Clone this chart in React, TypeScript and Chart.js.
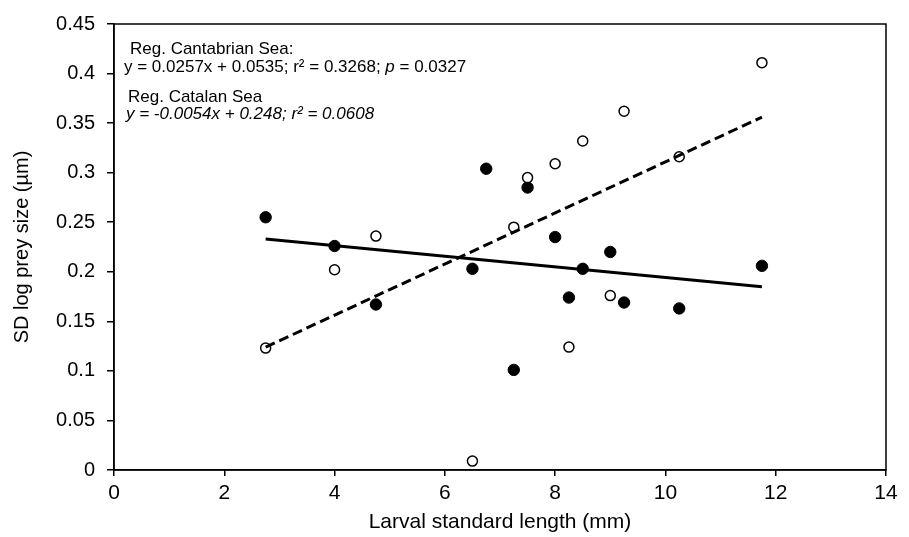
import React, { useEffect, useRef } from "react";
import { Chart, registerables } from "chart.js";

Chart.register(...registerables);

// Cantabrian Sea (open circles, dashed regression)
const cantabrianX = [2.75, 4, 4.75, 6.5, 7.25, 7.5, 8, 8.25, 8.5, 9, 9.25, 10.25, 11.75];
const cantabrianY = [0.123, 0.202, 0.236, 0.009, 0.245, 0.295, 0.309, 0.124, 0.332, 0.176, 0.362, 0.316, 0.411];

// Catalan Sea (filled circles, solid regression)
const catalanX = [2.75, 4, 4.75, 6.5, 6.75, 7.25, 7.5, 8, 8.25, 8.5, 9, 9.25, 10.25, 11.75];
const catalanY = [0.255, 0.226, 0.167, 0.203, 0.304, 0.101, 0.285, 0.235, 0.174, 0.203, 0.220, 0.169, 0.163, 0.206];

// Regression line end points
const cantabrianRegX = [2.75, 11.75];
const cantabrianRegY = [0.124, 0.356];
const catalanRegX = [2.75, 11.75];
const catalanRegY = [0.233, 0.185];

const xTicks = [0, 2, 4, 6, 8, 10, 12, 14];
const yTicks = [0, 0.05, 0.1, 0.15, 0.2, 0.25, 0.3, 0.35, 0.4, 0.45];
const yTickLabels = ["0", "0.05", "0.1", "0.15", "0.2", "0.25", "0.3", "0.35", "0.4", "0.45"];

const xTitle = "Larval standard length (mm)";
const yTitle = "SD log prey size (µm)";

const annotationLines: { dx: number; dy: number; runs: [string, boolean][] }[] = [
  { dx: 16, dy: 30, runs: [["Reg. Cantabrian Sea:", false]] },
  {
    dx: 10,
    dy: 48,
    runs: [
      ["y = 0.0257x + 0.0535; r² = 0.3268; ", false],
      ["p", true],
      [" = 0.0327", false],
    ],
  },
  { dx: 14, dy: 78, runs: [["Reg. Catalan Sea", false]] },
  { dx: 12, dy: 95, runs: [["y = -0.0054x + 0.248; r² = 0.0608", true]] },
];

const FONT = "'Liberation Sans', Arial, Helvetica, sans-serif";

const toPts = (xs: number[], ys: number[]) => xs.map((x, i) => ({ x, y: ys[i] }));

export default function App() {
  const ref = useRef<HTMLCanvasElement | null>(null);

  useEffect(() => {
    document.body.style.margin = "0";
    const canvas = ref.current;
    if (!canvas) return;

    const framePlugin = {
      id: "frame",
      afterDatasetsDraw(chart: any) {
        const { ctx, chartArea } = chart;
        ctx.save();
        ctx.strokeStyle = "#000";
        ctx.lineWidth = 1.5;
        ctx.strokeRect(chartArea.left, chartArea.top, chartArea.right - chartArea.left, chartArea.bottom - chartArea.top);
        ctx.restore();
      },
    };

    const annotationPlugin = {
      id: "annot",
      afterDraw(chart: any) {
        const { ctx, chartArea } = chart;
        ctx.save();
        ctx.fillStyle = "#000";
        ctx.textBaseline = "alphabetic";
        ctx.textAlign = "left";
        for (const line of annotationLines) {
          let x = chartArea.left + line.dx;
          const y = chartArea.top + line.dy;
          for (const [txt, italic] of line.runs) {
            ctx.font = `${italic ? "italic " : ""}17px ${FONT}`;
            ctx.fillText(txt, x, y);
            x += ctx.measureText(txt).width;
          }
        }
        ctx.restore();
      },
    };

    const chart = new Chart(canvas, {
      type: "scatter",
      data: {
        datasets: [
          {
            type: "line",
            label: "Reg. Cantabrian",
            data: toPts(cantabrianRegX, cantabrianRegY),
            borderColor: "#000",
            borderWidth: 3,
            borderDash: [10, 5],
            pointRadius: 0,
            fill: false,
            order: 0,
          },
          {
            type: "line",
            label: "Reg. Catalan",
            data: toPts(catalanRegX, catalanRegY),
            borderColor: "#000",
            borderWidth: 3,
            pointRadius: 0,
            fill: false,
            order: 0,
          },
          {
            label: "Cantabrian Sea",
            data: toPts(cantabrianX, cantabrianY),
            backgroundColor: "#fff",
            borderColor: "#000",
            borderWidth: 1.5,
            pointRadius: 5,
            order: 1,
          },
          {
            label: "Catalan Sea",
            data: toPts(catalanX, catalanY),
            backgroundColor: "#000",
            borderColor: "#000",
            borderWidth: 1,
            pointRadius: 5.7,
            order: 1,
          },
        ],
      } as any,
      options: {
        animation: false,
        responsive: false,
        maintainAspectRatio: false,
        layout: { padding: { left: 0, right: 23, top: 18.5, bottom: 0 } },
        plugins: { legend: { display: false }, tooltip: { enabled: false } },
        scales: {
          x: {
            type: "linear",
            min: 0,
            max: 14,
            afterBuildTicks: (s: any) => {
              s.ticks = xTicks.map((v) => ({ value: v }));
            },
            afterFit: (s: any) => {
              s.height = 67;
            },
            border: { display: true, color: "#000", width: 1.5 },
            grid: { display: true, drawOnChartArea: false, drawTicks: true, tickLength: 6, color: "#000", lineWidth: 1.5 },
            ticks: {
              color: "#000",
              font: { family: FONT, size: 21 },
              padding: 5,
              maxRotation: 0,
              callback: (v: any) => String(v),
            },
            title: {
              display: true,
              text: xTitle,
              color: "#000",
              font: { family: FONT, size: 21 },
              padding: { top: 0, bottom: 2 },
            },
          },
          y: {
            type: "linear",
            min: 0,
            max: 0.45,
            afterBuildTicks: (s: any) => {
              s.ticks = yTicks.map((v) => ({ value: v }));
            },
            afterFit: (s: any) => {
              s.width = 114;
            },
            border: { display: true, color: "#000", width: 1.5 },
            grid: { display: true, drawOnChartArea: false, drawTicks: true, tickLength: 7, color: "#000", lineWidth: 1.5 },
            ticks: {
              color: "#000",
              font: { family: FONT, size: 20 },
              padding: 12,
              callback: (v: any) => {
                const i = yTicks.findIndex((t) => Math.abs(t - Number(v)) < 1e-9);
                return i >= 0 ? yTickLabels[i] : String(v);
              },
            },
            title: {
              display: true,
              text: yTitle,
              color: "#000",
              font: { family: FONT, size: 20 },
              padding: { top: 10, bottom: 0 },
            },
          },
        },
      } as any,
      plugins: [framePlugin, annotationPlugin],
    });

    return () => chart.destroy();
  }, []);

  return (
    <div style={{ width: 909, height: 537 }}>
      <canvas ref={ref} width={909} height={537} style={{ display: "block", width: 909, height: 537 }} />
    </div>
  );
}
